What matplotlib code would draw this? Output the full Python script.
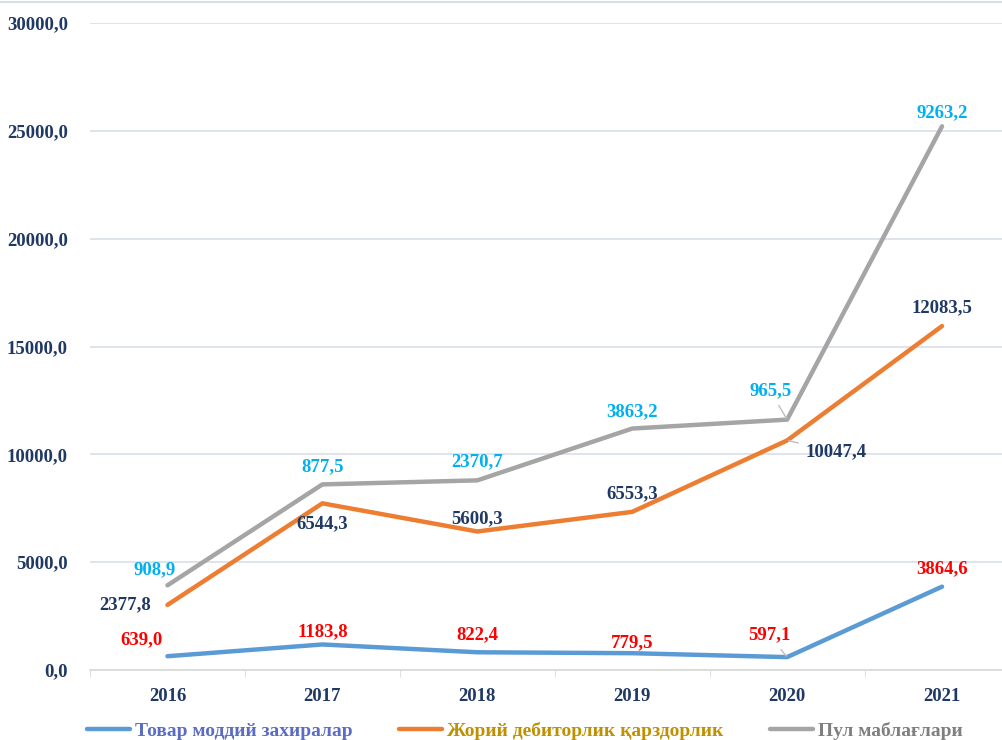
import matplotlib
matplotlib.use("Agg")
import matplotlib.pyplot as plt
import matplotlib.ticker as mticker
import numpy as np

plt.rcParams['font.family'] = ['Liberation Serif', 'DejaVu Serif']
plt.rcParams['font.weight'] = 'bold'

years = ['2016', '2017', '2018', '2019', '2020', '2021']
tovar = [639.0, 1183.8, 822.4, 779.5, 597.1, 3864.6]
debitor = [2377.8, 6544.3, 5600.3, 6553.3, 10047.4, 12083.5]
pul = [908.9, 877.5, 2370.7, 3863.2, 965.5, 9263.2]
names = ['Товар моддий захиралар', 'Жорий дебиторлик қарздорлик', 'Пул маблағлари']

line_colors = ['#5B9BD5', '#ED7D31', '#A5A5A5']
label_colors = ['#FF0000', '#1F3864', '#00B0F0']
legend_colors = ['#5A6CC4', '#BF9000', '#7F7F7F']
navy = '#1F3864'
fs = 13.5

# label offsets in pixels (dx, dy), ha
off_tovar = [(-26, 16, 'center'), (0, 13, 'center'), (0, 18, 'center'),
             (0, 10, 'center'), (-18, 22, 'center'), (0, 18, 'center')]
off_deb = [(-16, 0, 'right'), (0, -20, 'center'), (0, 13, 'center'),
           (0, 18, 'center'), (18, -11, 'left'), (0, 18, 'center')]
off_pul = [(-13, 16, 'center'), (0, 18, 'center'), (0, 19, 'center'),
           (0, 17, 'center'), (-17, 29, 'center'), (0, 14, 'center')]

x = np.arange(len(years))
s1 = np.array(tovar)
s2 = s1 + np.array(debitor)
s3 = s2 + np.array(pul)

fig = plt.figure(figsize=(10.02, 7.40), dpi=100)
ax = fig.add_axes([90/1002, 70/740, 929.5/1002, 647/740])

stacks = [s1, s2, s3]
raw = [tovar, debitor, pul]
offs = [off_tovar, off_deb, off_pul]
handles = []
for i in range(3):
    h, = ax.plot(x, stacks[i], color=line_colors[i], lw=3.2, solid_capstyle='round',
                 solid_joinstyle='round', zorder=3 + i, label=names[i])
    handles.append(h)

for i in range(3):
    for j in range(len(years)):
        dx, dy, ha = offs[i][j]
        txt = f'{raw[i][j]:.1f}'.replace('.', ',')
        kw = {}
        if years[j] == '2020':
            kw['arrowprops'] = dict(arrowstyle='-', color='#BFBFBF', lw=1.0,
                                    shrinkA=3, shrinkB=1)
        ax.annotate(txt, (x[j], stacks[i][j]), xytext=(dx, dy),
                    textcoords='offset pixels', ha=ha, va='center',
                    color=label_colors[i], fontsize=fs, fontweight='bold',
                    zorder=10, **kw)

ax.set_xlim(-0.5, 5.5)
ax.set_ylim(0, 30000)
ax.yaxis.set_major_locator(mticker.MultipleLocator(5000))
ax.yaxis.set_major_formatter(mticker.FuncFormatter(lambda v, p: f'{v:.1f}'.replace('.', ',')))
ax.set_xticks(x)
ax.set_xticklabels(years)
ax.set_xticks(np.arange(-0.5, 6, 1), minor=True)
ax.tick_params(axis='x', which='major', length=0, pad=13, labelsize=fs, labelcolor=navy)
ax.tick_params(axis='x', which='minor', length=5, color='#D9D9D9')
ax.tick_params(axis='y', length=0, pad=16, labelsize=fs, labelcolor=navy)
ax.grid(axis='y', color='#D9DEE8', lw=1.2)
ax.set_axisbelow(True)
for sp in ['left', 'right', 'top']:
    ax.spines[sp].set_visible(False)
ax.spines['bottom'].set_color('#D9D9D9')
ax.spines['bottom'].set_linewidth(1.2)

leg = fig.legend(handles=handles, loc='center', bbox_to_anchor=(525/1002, 9/740),
                 ncol=3, frameon=False, handlelength=2.2,
                 handletextpad=0.25, columnspacing=2.4,
                 prop={'weight': 'bold', 'size': 14})
for t, c in zip(leg.get_texts(), legend_colors):
    t.set_color(c)

fig.add_artist(plt.Line2D([0, 1], [0.997, 0.997], color='#D9DEE8', lw=1.5,
                          transform=fig.transFigure))

fig.savefig('out.png', dpi=100)
